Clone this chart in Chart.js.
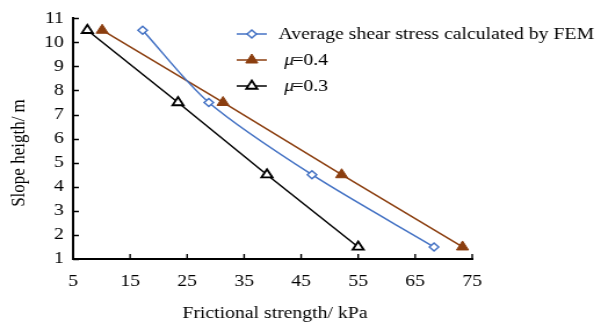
<!DOCTYPE html>
<html>
<head>
<meta charset="utf-8">
<script src="https://cdn.jsdelivr.net/npm/chart.js@4.4.1/dist/chart.umd.min.js"></script>
<style>
  html, body { margin: 0; padding: 0; background: #fff; overflow: hidden; }
  /* the figure is drawn narrow and widened to the page width */
  #wrap { width: 518px; height: 325px; transform: scaleX(1.1602); transform-origin: 0 0; }
</style>
</head>
<body>
<div id="wrap"><canvas id="slope_chart"></canvas></div>
<script>
//Slope heights (m) where the stresses were sampled
let slope_heights = [10.5, 7.5, 4.5, 1.5];

//Frictional strength / shear stress values (kPa) for each height
let fem_stress = [17.2, 28.8, 46.9, 68.3];
let strength_mu04 = [10.1, 31.3, 52.1, 73.3];
let strength_mu03 = [7.5, 23.4, 39.0, 55.0];

//Series names
let series_names = ['Average shear stress calculated by FEM', 'μ=0.4', 'μ=0.3'];

//Axis ranges and titles
let x_range = [5, 75];
let x_step = 10;
let y_range = [1, 11];
let y_step = 1;
let x_title = 'Frictional strength/ kPa';
let y_title = 'Slope heigth/ m';

const serif = '"Liberation Serif", "Times New Roman", serif';

const toPoints = (xs) => xs.map((x, i) => ({ x: x, y: slope_heights[i] }));

//Small ticks pointing into the plot area
const innerTicks = {
    id: 'innerTicks',
    afterDraw(chart) {
        let ctx = chart.ctx;
        let area = chart.chartArea;
        let xs = chart.scales.x;
        let ys = chart.scales.y;
        ctx.save();
        ctx.strokeStyle = '#000';
        ctx.lineWidth = 1.4;
        ctx.beginPath();
        xs.ticks.forEach(t => {
            let px = xs.getPixelForValue(t.value);
            ctx.moveTo(px, area.bottom);
            ctx.lineTo(px, area.bottom - 5);
        });
        ys.ticks.forEach(t => {
            let py = Math.round(ys.getPixelForValue(t.value)) + 0.5;
            ctx.moveTo(area.left, py);
            ctx.lineTo(area.left + 5, py);
        });
        ctx.stroke();
        ctx.restore();
    }
};

//Axis titles and the legend block in the upper right
const labelsAndLegend = {
    id: 'labelsAndLegend',
    afterDraw(chart) {
        let ctx = chart.ctx;
        ctx.save();
        ctx.fillStyle = '#000';
        ctx.font = '17px ' + serif;
        ctx.textAlign = 'center';
        ctx.textBaseline = 'middle';
        ctx.fillText(x_title, 237, 314);
        ctx.translate(16.5, 153);
        ctx.rotate(-Math.PI / 2);
        ctx.fillText(y_title, 0, 0);
        ctx.restore();

        let rows = [34, 60, 86];
        chart.data.datasets.forEach((ds, i) => {
            let y = rows[i];
            ctx.save();
            ctx.strokeStyle = ds.borderColor;
            ctx.lineWidth = ds.borderWidth;
            ctx.beginPath();
            ctx.moveTo(204, y);
            ctx.lineTo(230, y);
            ctx.stroke();
            ctx.fillStyle = ds.pointBackgroundColor;
            ctx.strokeStyle = ds.borderColor;
            ctx.lineWidth = ds.pointBorderWidth;
            Chart.helpers.drawPoint(ctx, {
                pointStyle: ds.pointStyle,
                radius: ds.pointRadius,
                borderWidth: ds.pointBorderWidth,
                rotation: 0
            }, 217, y);
            ctx.fillStyle = '#000';
            ctx.textAlign = 'left';
            ctx.textBaseline = 'middle';
            let label = ds.label;
            if (label.startsWith('μ')) {
                ctx.font = 'italic 17px ' + serif;
                ctx.fillText('μ', 245, y + 1);
                let w = ctx.measureText('μ').width;
                ctx.font = '17px ' + serif;
                ctx.fillText(label.slice(1), 245 + w - 1.5, y + 1);
            } else {
                ctx.font = '17px ' + serif;
                ctx.fillText(label, 240, y + 1);
            }
            ctx.restore();
        });
    }
};

let chart_canvas = document.getElementById('slope_chart');

let chart = new Chart(chart_canvas, {
    type: 'scatter',
    data: {
        datasets: [{
            label: series_names[0],
            data: toPoints(fem_stress),
            showLine: true,
            tension: 0.3,
            borderColor: '#4472C4',
            borderWidth: 1.5,
            pointStyle: 'rectRot',
            pointRadius: 4,
            pointBorderWidth: 1.5,
            pointBackgroundColor: '#fff'
        }, {
            label: series_names[1],
            data: toPoints(strength_mu04),
            showLine: true,
            tension: 0,
            borderColor: '#8B3E0F',
            borderWidth: 1.5,
            pointStyle: 'triangle',
            pointRadius: 6,
            pointBorderWidth: 1,
            pointBackgroundColor: '#8B3E0F'
        }, {
            label: series_names[2],
            data: toPoints(strength_mu03),
            showLine: true,
            tension: 0,
            borderColor: '#000',
            borderWidth: 1.5,
            pointStyle: 'triangle',
            pointRadius: 5.5,
            pointBorderWidth: 1.8,
            pointBackgroundColor: '#fff'
        }]
    },
    options: {
        responsive: true,
        maintainAspectRatio: false,
        animation: false,
        layout: { padding: { top: 15, right: 111, left: 0, bottom: 0 } },
        plugins: {
            legend: { display: false },
            tooltip: { enabled: false }
        },
        scales: {
            x: {
                type: 'linear',
                min: x_range[0],
                max: x_range[1],
                ticks: {
                    stepSize: x_step,
                    color: '#000',
                    padding: 12,
                    font: { family: serif, size: 17 }
                },
                grid: { drawOnChartArea: false, drawTicks: false },
                border: { color: '#000', width: 2 },
                afterFit(scale) { scale.height = 66; }
            },
            y: {
                type: 'linear',
                min: y_range[0],
                max: y_range[1],
                ticks: {
                    stepSize: y_step,
                    color: '#000',
                    padding: 8,
                    font: { family: serif, size: 17 }
                },
                grid: { drawOnChartArea: false, drawTicks: false },
                border: { color: '#000', width: 2 },
                afterFit(scale) { scale.width = 63; }
            }
        }
    },
    plugins: [innerTicks, labelsAndLegend]
});
</script>
</body>
</html>
